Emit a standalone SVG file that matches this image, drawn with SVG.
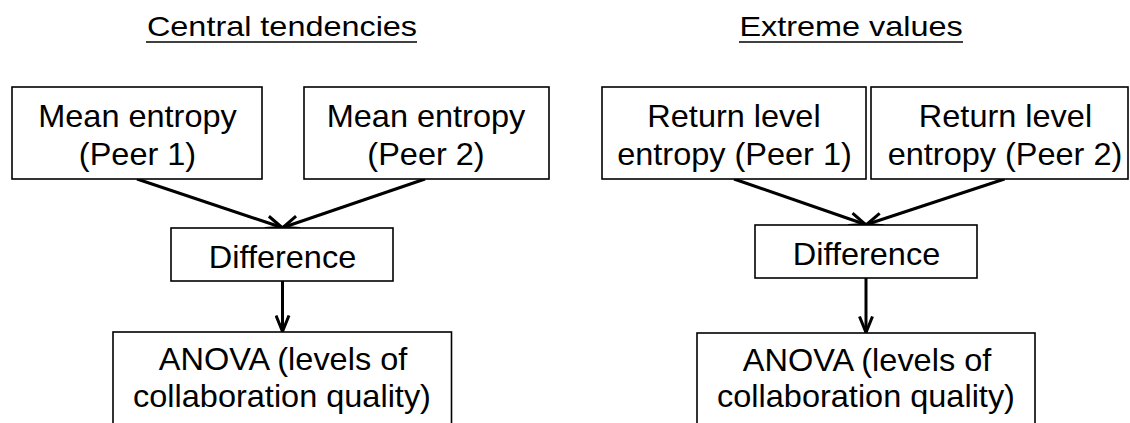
<svg xmlns="http://www.w3.org/2000/svg" width="1130" height="423" viewBox="0 0 1130 423">
<defs>
<style>
.box{fill:#fff;stroke:#000;stroke-width:1.6}
.t{font-family:"Liberation Sans",Arial,sans-serif;font-size:30.5px;fill:#000;text-anchor:middle}
.title{font-family:"Liberation Sans",Arial,sans-serif;font-size:27px;fill:#000;text-anchor:middle}
.ul{stroke:#000;stroke-width:1.6}
.c{stroke:#000;stroke-width:3;fill:none;marker-end:url(#arr)}
</style>
<marker id="arr" viewBox="0 0 18 16" refX="17" refY="8" markerWidth="18" markerHeight="16" orient="auto" markerUnits="userSpaceOnUse">
<path d="M1,1.5 L17,8 L1,14.5" fill="none" stroke="#000" stroke-width="3"/>
</marker>
</defs>
<rect width="1130" height="423" fill="#fff"/>
<text class="title" transform="translate(282,36) scale(1.2,1)">Central tendencies</text>
<line class="ul" x1="146" y1="42" x2="417" y2="42"/>
<text class="title" transform="translate(851,36) scale(1.2,1)">Extreme values</text>
<line class="ul" x1="739" y1="42" x2="963" y2="42"/>
<g id="connectors">
<line class="c" x1="137" y1="179" x2="282" y2="227.5"/>
<line class="c" x1="425" y1="179" x2="283" y2="227.5"/>
<line class="c" x1="282.5" y1="281" x2="282.5" y2="331.5"/>
<line class="c" x1="734" y1="179" x2="865.5" y2="224.5"/>
<line class="c" x1="1004.5" y1="179" x2="866.5" y2="224.5"/>
<line class="c" x1="866" y1="278" x2="866" y2="332.5"/>
</g>
<g id="mean1"><rect class="box" x="12" y="87" width="250" height="92"/><text class="t" transform="translate(137.5,126.5) scale(1.065,1)">Mean entropy</text><text class="t" transform="translate(137.5,165) scale(1.065,1)">(Peer 1)</text></g>
<g id="mean2"><rect class="box" x="304" y="87" width="245" height="92"/><text class="t" transform="translate(426,126.5) scale(1.065,1)">Mean entropy</text><text class="t" transform="translate(426,165) scale(1.065,1)">(Peer 2)</text></g>
<g id="diff1"><rect class="box" x="171" y="228" width="222" height="53"/><text class="t" transform="translate(282.5,267.5) scale(1.065,1)">Difference</text></g>
<g id="anova1"><rect class="box" x="113" y="332" width="338.5" height="110"/><text class="t" transform="translate(283,370) scale(1.065,1)">ANOVA (levels of</text><text class="t" transform="translate(282,407) scale(1.065,1)">collaboration quality)</text></g>
<g id="ret1"><rect class="box" x="602" y="87" width="264" height="92"/><text class="t" transform="translate(734,126.5) scale(1.065,1)">Return level</text><text class="t" transform="translate(734.5,165) scale(1.065,1)">entropy (Peer 1)</text></g>
<g id="ret2"><rect class="box" x="871" y="87" width="257" height="92"/><text class="t" transform="translate(1005.5,126.5) scale(1.065,1)">Return level</text><text class="t" transform="translate(1005,165) scale(1.065,1)">entropy (Peer 2)</text></g>
<g id="diff2"><rect class="box" x="755" y="225" width="222" height="53"/><text class="t" transform="translate(866.5,264.5) scale(1.065,1)">Difference</text></g>
<g id="anova2"><rect class="box" x="697" y="333" width="338" height="110"/><text class="t" transform="translate(867,371) scale(1.065,1)">ANOVA (levels of</text><text class="t" transform="translate(866,407) scale(1.065,1)">collaboration quality)</text></g>
</svg>
